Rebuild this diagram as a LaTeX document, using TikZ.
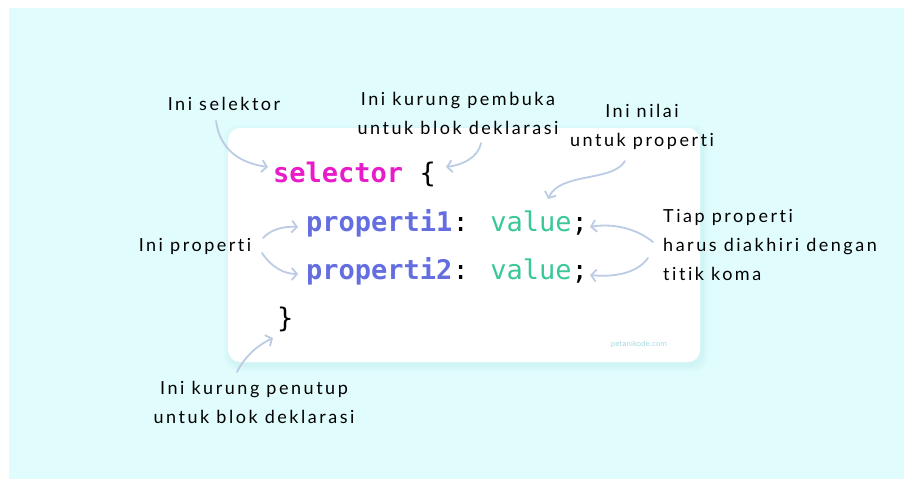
\documentclass[tikz,border=0pt]{standalone}
\usepackage{fontspec}
\usetikzlibrary{arrows.meta}
\newfontfamily\codefont{DejaVu Sans Mono}
\newfontfamily\handfont{Lato}[LetterSpace=14, Ligatures={NoCommon}]
\newfontfamily\markfont{DejaVu Sans}
\definecolor{bgcyan}{RGB}{224,252,252}
\definecolor{shadowc}{RGB}{150,215,220}
\definecolor{selmag}{RGB}{232,28,200}
\definecolor{propblue}{RGB}{100,110,225}
\definecolor{valgreen}{RGB}{60,200,150}
\definecolor{arrowc}{RGB}{188,204,228}
\definecolor{markc}{RGB}{160,218,226}
\tikzset{
  note/.style={font=\handfont\fontsize{18}{29}\selectfont, inner sep=0pt, text=black},
  code/.style={font=\codefont\fontsize{27}{32}\selectfont, inner sep=0pt, anchor=base west},
  arr/.style={draw=arrowc, line width=1.8pt, line cap=round, -{Straight Barb[length=5pt,width=12pt,line width=1.8pt]}}
}
\begin{document}
\begin{tikzpicture}[x=1pt,y=-1pt]
\useasboundingbox (0,0) rectangle (904,479);
\fill[bgcyan] (9,8) rectangle (904,479);
% card shadow
\foreach \d/\o in {6/0.05,4/0.06,2/0.08}{
  \fill[shadowc, opacity=\o, rounded corners=14pt] (228-\d+2,128-\d+3) rectangle (700+\d+2,362+\d+3);
}
\fill[white, rounded corners=12pt] (228,128) rectangle (700,362);

% code
\node[code] (c1) at (273,182) {\textcolor{selmag}{\bfseries selector} \{};
\node[code] (c2) at (306,231) {\textcolor{propblue}{\bfseries properti1}: \textcolor{valgreen}{value};};
\node[code] (c3) at (306,279) {\textcolor{propblue}{\bfseries properti2}: \textcolor{valgreen}{value};};
\node[code] (c4) at (277,327) {\}};
\node[font=\markfont\fontsize{7}{8}\selectfont, text=markc, inner sep=0pt] (mark) at (639,345) {petanikode.com};

% annotations
\node[note] (nsel) at (224,104) {Ini selektor};
\node[note, align=center] (nopen) at (458,113) {Ini kurung pembuka\\untuk blok deklarasi};
\node[note, align=center] (nval) at (642,127) {Ini nilai\\untuk properti};
\node[note, align=left, anchor=west] (nend) at (663,245) {Tiap properti\\harus diakhiri dengan\\titik koma};
\node[note] (nprop) at (195,246) {Ini properti};
\node[note, align=center] (nclose) at (254,402) {Ini kurung penutup\\untuk blok deklarasi};

% arrow end points
\coordinate (e1) at (268,167);
\coordinate (e2) at (446,167);
\coordinate (e3) at (548,199);
\coordinate (e4) at (298,227);
\coordinate (e5) at (298,274);
\coordinate (e6) at (590,227);
\coordinate (e7) at (590,275);
\coordinate (e8) at (273,338);
\coordinate (s1) at (216,121);
\coordinate (s2) at (481,143);
\coordinate (s3) at (625,161);
\coordinate (s4) at (263,238);
\coordinate (s5) at (262,253);
\coordinate (s6) at (653,242);
\coordinate (s7) at (648,258);
\coordinate (s8) at (237,372);

\draw[arr] (s1) .. controls (220,150) and (240,163) .. (e1);
\draw[arr] (s2) .. controls (478,158) and (462,165) .. (e2);
\draw[arr] (s3) .. controls (613,182) and (560,172) .. (e3);
\draw[arr] (s4) .. controls (270,230) and (283,226) .. (e4);
\draw[arr] (s5) .. controls (272,268) and (285,274) .. (e5);
\draw[arr] (s6) .. controls (632,225) and (606,224) .. (e6);
\draw[arr] (s7) .. controls (636,275) and (610,277) .. (e7);
\draw[arr] (s8) .. controls (245,356) and (258,345) .. (e8);
\end{tikzpicture}
\end{document}
